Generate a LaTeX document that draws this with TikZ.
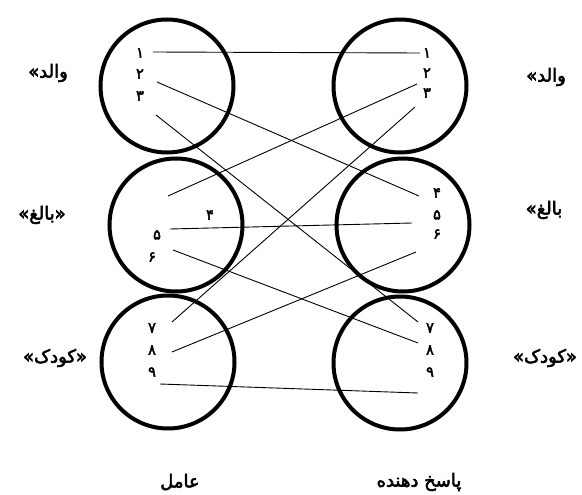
\documentclass[tikz,border=0pt]{standalone}
\usepackage{fontspec}
\newfontfamily\arabicfont[Script=Arabic,FakeBold=3]{DejaVu Sans}
\TeXXeTstate=1

\begin{document}
\begin{tikzpicture}[x=1pt, y=-1pt,
    ring/.style={circle, draw, line width=4pt, minimum size=133pt, inner sep=0pt},
    num/.style={font=\arabicfont\fontsize{14.5}{14.5}\selectfont, inner sep=0pt},
    lbl/.style={font=\arabicfont\fontsize{18}{19}\selectfont, inner sep=0pt},
    link/.style={line width=0.9pt}]
    \useasboundingbox (0,0) rectangle (582,495);

    % the six rings
    \node[ring] (tl) at (167,86) {}; \node[ring] (ml) at (176,225) {}; \node[ring] (bl) at (168,362) {};
    \node[ring] (tr) at (400,86) {}; \node[ring] (mr) at (403,225) {}; \node[ring] (br) at (400,363) {};

    % numbers inside the rings
    \foreach \n/\x/\y/\d in {l1/140/53/۱, l2/140/74/۲, l3/140/96/۳, l4/210/215/۴, l5/157/235/۵, l6/152/257/۶, l7/152/328/۷, l8/152/350/۸, l9/152/372/۹,
        r1/427/53/۱, r2/427/73/۲, r3/427/93/۳, r4/437/193/۴, r5/437/215/۵, r6/437/234/۶, r7/430/328/۷, r8/430/350/۸, r9/430/372/۹} {
        \node[num] (\n) at (\x,\y) {\d};
    }

    % ends of the links
    \coordinate (a1) at (153,52); \coordinate (a2) at (157,82); \coordinate (a3) at (156,115);
    \coordinate (a4) at (168,196); \coordinate (a5) at (170,229); \coordinate (a6) at (173,250);
    \coordinate (a7) at (172,322); \coordinate (a8) at (172,352); \coordinate (a9) at (160,384);
    \coordinate (b1) at (420,53); \coordinate (b2) at (417,84); \coordinate (b3) at (415,107);
    \coordinate (b4) at (419,196); \coordinate (b5) at (412,223); \coordinate (b6) at (416,252);
    \coordinate (b7) at (418,322); \coordinate (b8) at (418,343); \coordinate (b9) at (418,393);

    \foreach \a/\b in {a1/b1, a2/b4, a3/b7, a4/b2, a5/b5, a6/b8, a7/b3, a8/b6, a9/b9} {
        \draw[link] (\a) -- (\b);
    }

    % side and bottom labels
    \node[lbl] (parentL) at (48,73) {والد»};
    \node[lbl] (adultL) at (42,215) {«بالغ»};
    \node[lbl] (childL) at (55,358) {«کودک»};
    \node[lbl] (parentR) at (546,77) {والد»};
    \node[lbl] (adultR) at (544,210) {بالغ»};
    \node[lbl] (childR) at (545,358) {«کودک»};
    \node[lbl] (agent) at (180,482) {عامل};
    \node[lbl] (responder) at (419,482) {\beginR پاسخ دهنده\endR};
\end{tikzpicture}
\end{document}
